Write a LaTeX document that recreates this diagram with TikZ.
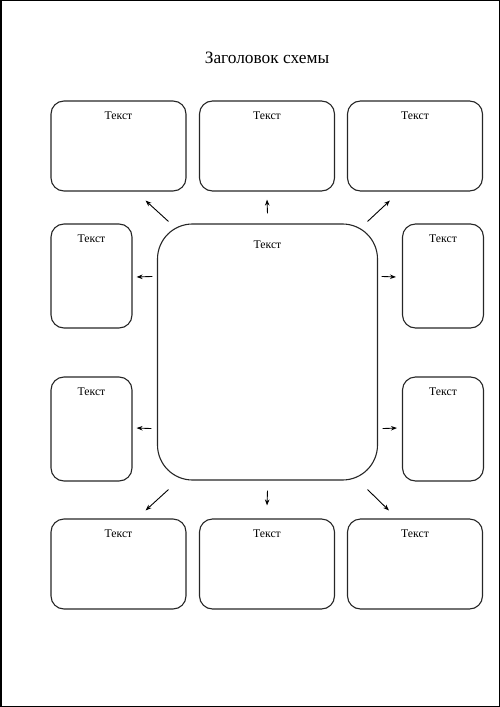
\documentclass[tikz,border=0pt]{standalone}
\usepackage{fontspec}
\setmainfont{Liberation Serif}
\usetikzlibrary{arrows.meta,calc}
\begin{document}
\begin{tikzpicture}[x=1bp,y=-1bp,
  box/.style={draw=black!85, line width=1.1bp, rounded corners=13bp, inner sep=0pt},
  wide/.style={box, minimum width=135bp, minimum height=90bp},
  tall/.style={box, minimum width=81bp, minimum height=104bp},
  lbl/.style={font=\fontsize{11.8}{14}\selectfont, inner sep=0pt},
  arr/.style={-{Stealth[length=6bp,width=4.5bp]}, line width=0.9bp}]
\useasboundingbox (0,0) rectangle (500,707);
\draw[line width=1.5bp] (0.75,0.75) rectangle (499.25,706.25);

\node[font=\fontsize{17.4}{20}\selectfont, inner sep=0pt] (title) at (267,58) {Заголовок схемы};

% boxes
\node[wide] (t1) at (118.5,146) {};
\node[wide] (t2) at (267,146) {};
\node[wide] (t3) at (415,146) {};
\node[wide] (b1) at (118.5,564) {};
\node[wide] (b2) at (267,564) {};
\node[wide] (b3) at (415,564) {};
\node[tall] (l1) at (91.5,276) {};
\node[tall] (l2) at (91.5,429) {};
\node[tall] (r1) at (443,276) {};
\node[tall] (r2) at (443,429) {};
\node[box, rounded corners=35bp, minimum width=220bp, minimum height=256bp] (c) at (267.5,352) {};

% labels
\foreach \b in {t1,t2,t3,b1,b2,b3,l1,l2,r1,r2}
  \node[lbl] (\b-txt) at ($(\b.north)+(0,15)$) {Текст};
\node[lbl] (c-txt) at ($(c.north)+(0,21)$) {Текст};

% arrows
\draw[arr] ($(c.north west)+(11.5,-2)$) -- ($(t1.south east)+(-41,9)$);
\draw[arr] ($(c.north)+(0,-10)$) -- ($(t2.south)+(0,8)$);
\draw[arr] ($(c.north east)+(-10.5,-2)$) -- ($(t3.south west)+(43,9)$);
\draw[arr] ($(c.north west)+(-4.5,53)$) -- ($(l1.east)+(4,1)$);
\draw[arr] ($(c.north east)+(3.5,53)$) -- ($(r1.west)+(-6,1)$);
\draw[arr] ($(c.south west)+(-5.5,-52)$) -- ($(l2.east)+(4,-1)$);
\draw[arr] ($(c.south east)+(4.5,-52)$) -- ($(r2.west)+(-5,-1)$);
\draw[arr] ($(c.south west)+(11.5,9)$) -- ($(b1.north east)+(-41,-8)$);
\draw[arr] ($(c.south)+(0,10)$) -- ($(b2.north)+(0,-13)$);
\draw[arr] ($(c.south east)+(-10.5,9)$) -- ($(b3.north west)+(42,-8)$);
\end{tikzpicture}
\end{document}
